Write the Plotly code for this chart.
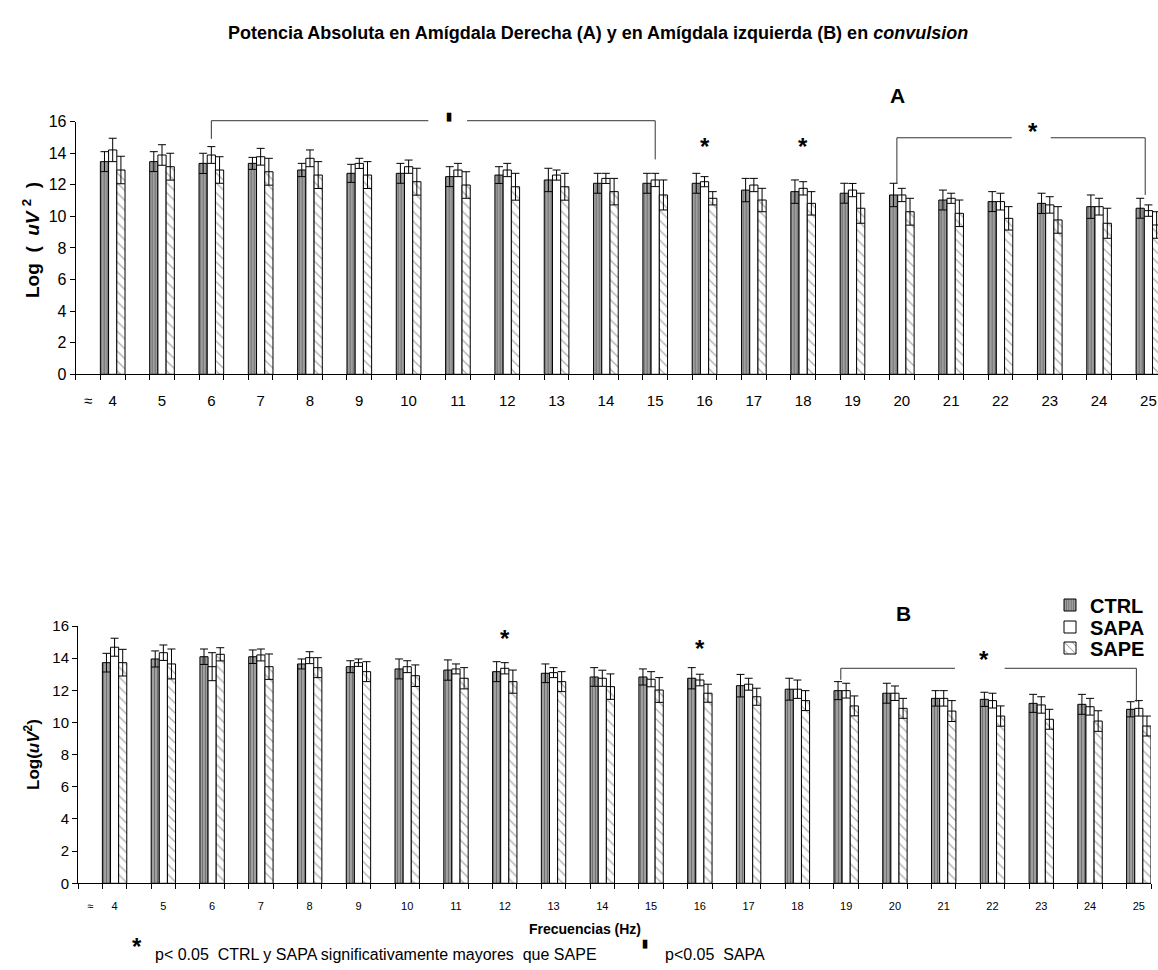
import plotly.graph_objects as go

# ---------------- data ----------------
freqs = list(range(4, 26))
tick_labels = ["≈"] + [str(f) for f in freqs]

ctrl_a = [13.46, 13.46, 13.35, 13.35, 12.93, 12.72, 12.72, 12.51, 12.61, 12.30, 12.09,
          12.09, 12.09, 11.66, 11.56, 11.46, 11.35, 11.03, 10.93, 10.82, 10.61, 10.51]
ctrl_a_err = [0.63, 0.63, 0.64, 0.38, 0.42, 0.57, 0.63, 0.63, 0.53, 0.74, 0.63,
              0.63, 0.63, 0.74, 0.74, 0.63, 0.74, 0.63, 0.63, 0.64, 0.74, 0.63]
sapa_a = [14.20, 13.88, 13.88, 13.77, 13.67, 13.35, 13.14, 12.93, 12.93, 12.61, 12.40,
          12.30, 12.19, 11.98, 11.77, 11.66, 11.35, 11.14, 10.93, 10.72, 10.61, 10.36]
sapa_a_err = [0.74, 0.65, 0.53, 0.53, 0.53, 0.32, 0.42, 0.42, 0.42, 0.32, 0.32,
              0.42, 0.32, 0.42, 0.42, 0.42, 0.42, 0.32, 0.53, 0.52, 0.53, 0.36]
sape_a = [12.93, 13.14, 12.93, 12.82, 12.61, 12.61, 12.19, 11.98, 11.87, 11.87, 11.56,
          11.35, 11.14, 11.03, 10.82, 10.51, 10.29, 10.19, 9.87, 9.77, 9.56, 9.45]
sape_a_err = [0.87, 0.85, 0.84, 0.85, 0.85, 0.85, 0.85, 0.84, 0.85, 0.85, 0.84,
              0.95, 0.42, 0.74, 0.74, 0.95, 0.85, 0.84, 0.74, 0.84, 0.95, 0.84]

ctrl_b = [13.72, 13.95, 14.09, 14.09, 13.64, 13.47, 13.33, 13.26, 13.16, 13.06, 12.83,
          12.83, 12.75, 12.29, 12.07, 11.98, 11.82, 11.50, 11.44, 11.19, 11.13, 10.82]
ctrl_b_err = [0.58, 0.50, 0.48, 0.42, 0.31, 0.37, 0.62, 0.63, 0.62, 0.58, 0.58,
              0.50, 0.66, 0.70, 0.68, 0.56, 0.62, 0.48, 0.44, 0.56, 0.62, 0.47]
sapa_b = [14.68, 14.34, 13.47, 14.20, 14.03, 13.72, 13.47, 13.33, 13.37, 13.10, 12.75,
          12.69, 12.64, 12.38, 12.07, 11.98, 11.82, 11.50, 11.36, 11.09, 10.98, 10.88]
sapa_b_err = [0.56, 0.48, 0.87, 0.37, 0.37, 0.23, 0.37, 0.31, 0.35, 0.31, 0.50,
              0.47, 0.36, 0.37, 0.57, 0.46, 0.45, 0.48, 0.46, 0.51, 0.52, 0.48]
sape_b = [13.72, 13.64, 14.24, 13.47, 13.41, 13.16, 12.91, 12.75, 12.54, 12.54, 12.23,
          12.02, 11.82, 11.60, 11.36, 11.03, 10.88, 10.71, 10.40, 10.20, 10.09, 9.78]
sape_b_err = [0.83, 0.93, 0.41, 0.79, 0.62, 0.62, 0.67, 0.66, 0.72, 0.62, 0.79,
              0.77, 0.56, 0.53, 0.62, 0.62, 0.62, 0.65, 0.63, 0.62, 0.64, 0.62]

series_names = ["CTRL", "SAPA", "SAPE"]

# ---------------- layout helpers ----------------
W, H = 1158, 970


def px(x):
    return x / W


def py(y):
    return 1 - y / H


# slot positions: "≈" in slot 0, frequency f in slot 2f-7 (empty slot between groups)
xpos = [2 * f - 6.5 for f in freqs]
tickvals = [0.5] + xpos
minor_vals = list(range(0, 45))

XR_TOP = (W - 75.7) / 24.66
XR_BOT = 44.0
YMAX = 16.0

NARROW = "Liberation Sans Narrow, Arial Narrow, Liberation Sans, Arial, sans-serif"
ARIAL = "Liberation Sans, Arial, sans-serif"

styles = [
    dict(color="#a0a0a0", pattern=dict(shape="|", fgcolor="#3a3a3a", bgcolor="#a8a8a8",
                                       size=3, solidity=0.45)),
    dict(color="white"),
    dict(color="white", pattern=dict(shape="\\", fgcolor="#5a5a5a", bgcolor="white",
                                     size=7, solidity=0.18)),
]
legend_ids = ["legend", "legend2", "legend3"]

fig = go.Figure()


def add_panel(vals, errs, xa, ya, show):
    for k in range(3):
        fig.add_trace(go.Bar(
            x=xpos, y=vals[k], name=series_names[k],
            width=1 / 3, offset=-0.5 + k / 3,
            marker=dict(line=dict(color="black", width=1), **styles[k]),
            error_y=dict(type="data", array=errs[k], visible=True,
                         color="black", thickness=1, width=4),
            xaxis=xa, yaxis=ya, showlegend=show, legend=legend_ids[k],
        ))


add_panel([ctrl_a, sapa_a, sape_a], [ctrl_a_err, sapa_a_err, sape_a_err], "x", "y", False)
add_panel([ctrl_b, sapa_b, sape_b], [ctrl_b_err, sapa_b_err, sape_b_err], "x2", "y2", True)

xcommon = dict(tickmode="array", tickvals=tickvals, ticktext=tick_labels, ticks="",
               showline=True, linecolor="black", linewidth=1, showgrid=False,
               zeroline=False, automargin=False,
               minor=dict(tickmode="array", tickvals=minor_vals, ticks="outside",
                          ticklen=5, tickcolor="black", tickwidth=1, showgrid=False))
ycommon = dict(range=[0, YMAX], dtick=2, ticks="outside", ticklen=5, tickcolor="black",
               showline=True, linecolor="black", linewidth=1, showgrid=False,
               zeroline=False, automargin=False)


def legend_at(ycenter):
    return dict(x=px(1050), y=py(ycenter), xanchor="left", yanchor="middle",
                font=dict(family=ARIAL, size=20, color="black", weight="bold"),
                bgcolor="rgba(0,0,0,0)", itemwidth=30, borderwidth=0)


fig.update_layout(
    width=W, height=H, margin=dict(l=0, r=0, t=0, b=0, autoexpand=False),
    paper_bgcolor="white", plot_bgcolor="white",
    barmode="overlay",
    xaxis=dict(domain=[px(75.7), 1], range=[0, XR_TOP], anchor="y",
               tickfont=dict(family=ARIAL, size=15, color="black"),
               ticklabelstandoff=13, **xcommon),
    yaxis=dict(domain=[py(374.3), py(121.5)], anchor="x",
               tickfont=dict(family=ARIAL, size=16, color="black"), **ycommon),
    xaxis2=dict(domain=[px(78), px(1151)], range=[0, XR_BOT], anchor="y2",
                tickfont=dict(family=ARIAL, size=11, color="black"),
                ticklabelstandoff=12, **xcommon),
    yaxis2=dict(domain=[py(883.3), py(626)], anchor="x2",
                tickfont=dict(family=ARIAL, size=15, color="black"), **ycommon),
    legend=legend_at(605),
    legend2=legend_at(627),
    legend3=legend_at(648),
)

ann = []


def text(x, y, s, size, family=ARIAL, bold=True, xanchor="center", angle=0):
    ann.append(dict(x=px(x), y=py(y), xref="paper", yref="paper", text=s,
                    showarrow=False, xanchor=xanchor, yanchor="middle",
                    textangle=angle,
                    font=dict(family=family, size=size, color="black",
                              weight="bold" if bold else "normal")))


def dtext(x, y, s, size, xr, yr, xm):
    # placed in axis-domain fractions so nothing is hidden when outside the range
    ann.append(dict(x=x / xm, y=y / YMAX, xref=xr, yref=yr, text=s, showarrow=False,
                    xanchor="center", yanchor="middle",
                    font=dict(family=ARIAL, size=size, color="black", weight="bold")))


NB = "\u00a0"
# title
text(598, 33, "Potencia Absoluta en Amígdala Derecha (A) y en Amígdala izquierda (B) en <i>convulsion</i>",
     18, family=NARROW)
# panel letters
text(897, 96, "A", 21)
text(903, 613, "B", 21)
# y axis titles
text(31, 240, f"Log{NB}{NB}({NB}{NB}<i>uV</i>{NB}<sup>2</sup>{NB}{NB})", 19, angle=-90)
text(32, 755, "Log(<i>uV</i><sup>2</sup>)", 17, angle=-90)
# x axis title and footnote
text(585, 929, "Frecuencias (Hz)", 14, family=NARROW)
text(137, 946, "*", 24)
text(153, 954, "p< 0.05  CTRL y SAPA significativamente mayores  que SAPE", 16,
     family=NARROW, bold=False, xanchor="left")
text(645, 943, "▮", 11)
text(663, 954, "p<0.05  SAPA", 16, family=NARROW, bold=False, xanchor="left")

# significance markers
dtext(2 * 16 - 6.5, 14.4, "*", 24, "x domain", "y domain", XR_TOP)
dtext(2 * 18 - 6.5, 14.4, "*", 24, "x domain", "y domain", XR_TOP)
dtext(38.8, 15.35, "*", 24, "x domain", "y domain", XR_TOP)
dtext(15.14, 16.35, "▮", 11, "x domain", "y domain", XR_TOP)
dtext(2 * 12 - 6.5, 15.2, "*", 24, "x2 domain", "y2 domain", XR_BOT)
dtext(2 * 16 - 6.5, 14.6, "*", 24, "x2 domain", "y2 domain", XR_BOT)
dtext(37.15, 13.9, "*", 24, "x2 domain", "y2 domain", XR_BOT)
fig.update_layout(annotations=ann)

# brackets, drawn in axis-domain fractions so they are not clipped by the plot area
line = dict(color="#333333", width=1)
brackets = [
    # (xref, yref, xmax, x_left, x_right, y_top, y_left_end, y_right_end, gap_l, gap_r)
    ("x domain", "y domain", XR_TOP, 2 * 6 - 6.5, 2 * 15 - 6.5, 16.05, 14.9, 13.6, 14.3, 15.87),
    ("x domain", "y domain", XR_TOP, 33.3, 43.37, 14.97, 12.1, 11.35, 37.96, 39.54),
    ("x2 domain", "y2 domain", XR_BOT, 31.28, 43.4, 13.37, 12.65, 11.29, 35.96, 38.0),
]
for xr, yr, xm, xl, xrt, yt, yl, yre, gl, gr in brackets:
    for seg in [(xl, yl, xl, yt), (xl, yt, gl, yt), (gr, yt, xrt, yt), (xrt, yt, xrt, yre)]:
        fig.add_shape(type="line", xref=xr, yref=yr,
                      x0=seg[0] / xm, y0=seg[1] / YMAX,
                      x1=seg[2] / xm, y1=seg[3] / YMAX, line=line)

# remove the page's default body margin so the figure fills the window exactly
fig.write_html("out.html", config={"displayModeBar": False},
               post_script="document.body.style.margin='0';document.body.style.overflow='hidden';")
